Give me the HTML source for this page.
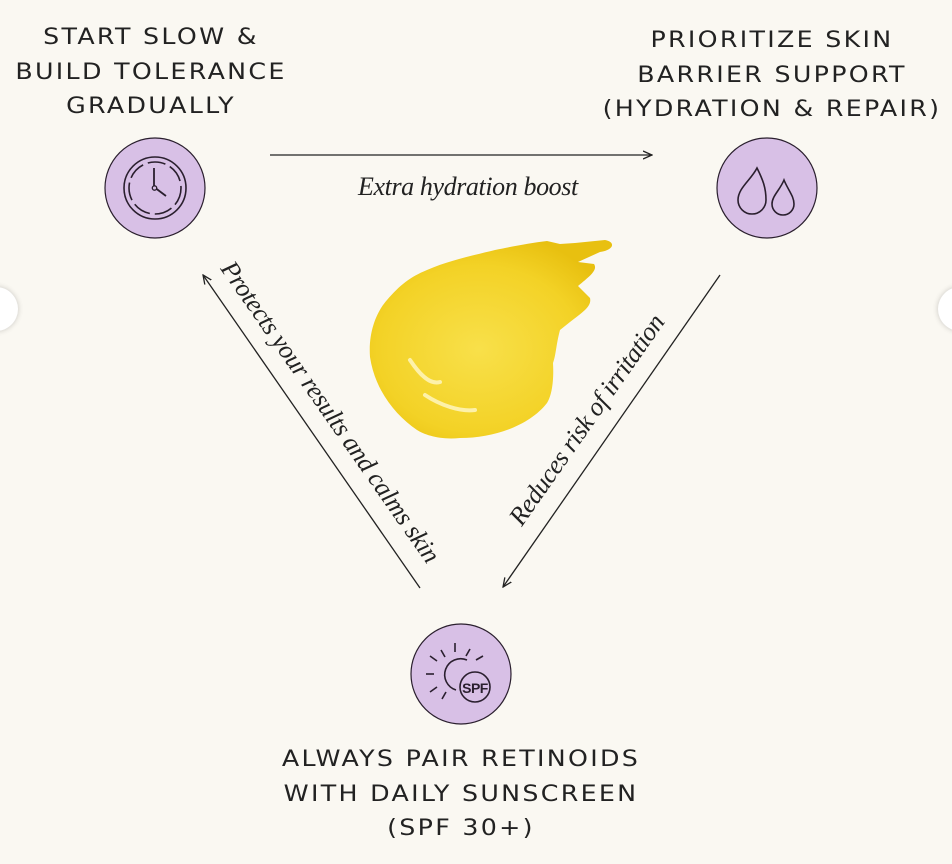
<!DOCTYPE html>
<html><head><meta charset="utf-8"><style>
html,body{margin:0;padding:0}
body{width:952px;height:864px;background:#faf8f2;position:relative;overflow:hidden;font-family:"Liberation Sans",sans-serif}
.h{position:absolute;text-align:center;font-size:22px;letter-spacing:2px;color:#222;line-height:34.5px;font-family:"DejaVu Sans","Liberation Sans",sans-serif;font-weight:normal;transform:scaleX(1.15)}
.lbl{position:absolute;font-family:"Liberation Serif",serif;font-style:italic;font-size:26px;color:#222;white-space:nowrap;letter-spacing:-0.4px}
</style></head><body>
<div class="h" style="left:0;width:302px;top:21px">START SLOW &amp;<br>BUILD TOLERANCE<br>GRADUALLY</div>
<div class="h" style="left:592px;width:360px;top:24px">PRIORITIZE SKIN<br>BARRIER SUPPORT<br>(HYDRATION &amp; REPAIR)</div>
<div class="h" style="left:230px;width:462px;top:743px">ALWAYS PAIR RETINOIDS<br>WITH DAILY SUNSCREEN<br>(SPF 30+)</div>

<svg width="952" height="864" style="position:absolute;left:0;top:0">
<defs>
<marker id="a" markerWidth="10" markerHeight="10" refX="9" refY="5" orient="auto" markerUnits="userSpaceOnUse"><path d="M0,1 L9,5 L0,9" fill="none" stroke="#222" stroke-width="1.3"/></marker>
<radialGradient id="y" cx="0.45" cy="0.55" r="0.6"><stop offset="0" stop-color="#f8e04a"/><stop offset="0.7" stop-color="#f3d226"/><stop offset="1" stop-color="#e8c010"/></radialGradient>
</defs>
<line x1="270" y1="155" x2="652" y2="155" stroke="#222" stroke-width="1.3" marker-end="url(#a)"/>
<line x1="720" y1="275" x2="503" y2="587" stroke="#222" stroke-width="1.3" marker-end="url(#a)"/>
<line x1="420" y1="588" x2="203" y2="275" stroke="#222" stroke-width="1.3" marker-end="url(#a)"/>

<circle cx="155" cy="188" r="50" fill="#d8c0e6" stroke="#2a1f2e" stroke-width="1.2"/>
<circle cx="155" cy="188" r="31" fill="none" stroke="#2a1f2e" stroke-width="1.6"/>
<circle cx="155" cy="188" r="26" fill="none" stroke="#2a1f2e" stroke-width="1.6" stroke-dasharray="18 5"/>
<path d="M154 168 V187 L166 196" fill="none" stroke="#2a1f2e" stroke-width="1.8"/>
<circle cx="154.5" cy="188" r="2.2" fill="#d8c0e6" stroke="#2a1f2e" stroke-width="1.3"/>

<circle cx="767" cy="188" r="50" fill="#d8c0e6" stroke="#2a1f2e" stroke-width="1.2"/>
<path d="M757 168 C751 180 738 188 738 200 A14 14 0 0 0 766 200 C766 188 763 180 757 168Z" fill="none" stroke="#2a1f2e" stroke-width="1.6"/>
<path d="M784 180 C780 190 772 196 772 204 A11 11 0 0 0 794 204 C794 196 788 190 784 180Z" fill="#d8c0e6" stroke="#2a1f2e" stroke-width="1.6"/>

<circle cx="461" cy="674" r="50" fill="#d8c0e6" stroke="#2a1f2e" stroke-width="1.2"/>
<path d="M467 660 A16 16 0 1 0 456 690" fill="none" stroke="#2a1f2e" stroke-width="1.6"/>
<g stroke="#2a1f2e" stroke-width="1.6">
<line x1="455" y1="643" x2="455" y2="652"/><line x1="430" y1="656" x2="437" y2="661"/><line x1="426" y1="674" x2="434" y2="674"/><line x1="430" y1="692" x2="437" y2="687"/><line x1="442" y1="699" x2="446" y2="692"/><line x1="470" y1="649" x2="466" y2="656"/><line x1="441" y1="650" x2="445" y2="657"/><line x1="483" y1="656" x2="476" y2="660"/>
</g>
<circle cx="475" cy="687" r="15" fill="#d8c0e6" stroke="#2a1f2e" stroke-width="1.6"/>
<text x="475" y="693" text-anchor="middle" font-family="Liberation Sans" font-size="14" font-weight="bold" fill="#2a1f2e" letter-spacing="-0.5">SPF</text>

<path d="M370 357 C368 330 378 310 387 300 C400 285 410 277 427 270 C450 260 475 255 495 250 C515 246 530 243 547 241 L560 244 L575 243 L605 240 C616 242 614 250 600 252 L578 262 L594 264 C598 270 590 276 578 286 L590 298 C592 306 583 312 570 322 L560 330 C556 345 556 355 553 363 C554 380 552 395 547 403 C530 425 495 438 460 438 C440 440 425 435 417 430 C395 415 375 390 370 357Z" fill="url(#y)"/>
<path d="M410 360 C420 375 430 385 440 382 M425 395 C440 405 460 412 475 410" fill="none" stroke="#fff7c8" stroke-width="4" stroke-linecap="round" opacity="0.8"/>
</svg>

<div class="lbl" style="left:358px;top:172px">Extra hydration boost</div>
<div class="lbl" style="left:587px;top:420px;transform:translate(-50%,-50%) rotate(-55deg)">Reduces risk of irritation</div>
<div class="lbl" style="left:330px;top:412px;transform:translate(-50%,-50%) rotate(55deg)">Protects your results and calms skin</div>

<div style="position:absolute;left:-26px;top:287px;width:44px;height:44px;border-radius:50%;background:#fff;box-shadow:0 0 6px rgba(0,0,0,0.2)"></div>
<div style="position:absolute;left:938px;top:287px;width:44px;height:44px;border-radius:50%;background:#fff;box-shadow:0 0 6px rgba(0,0,0,0.2)"></div>
</body></html>
